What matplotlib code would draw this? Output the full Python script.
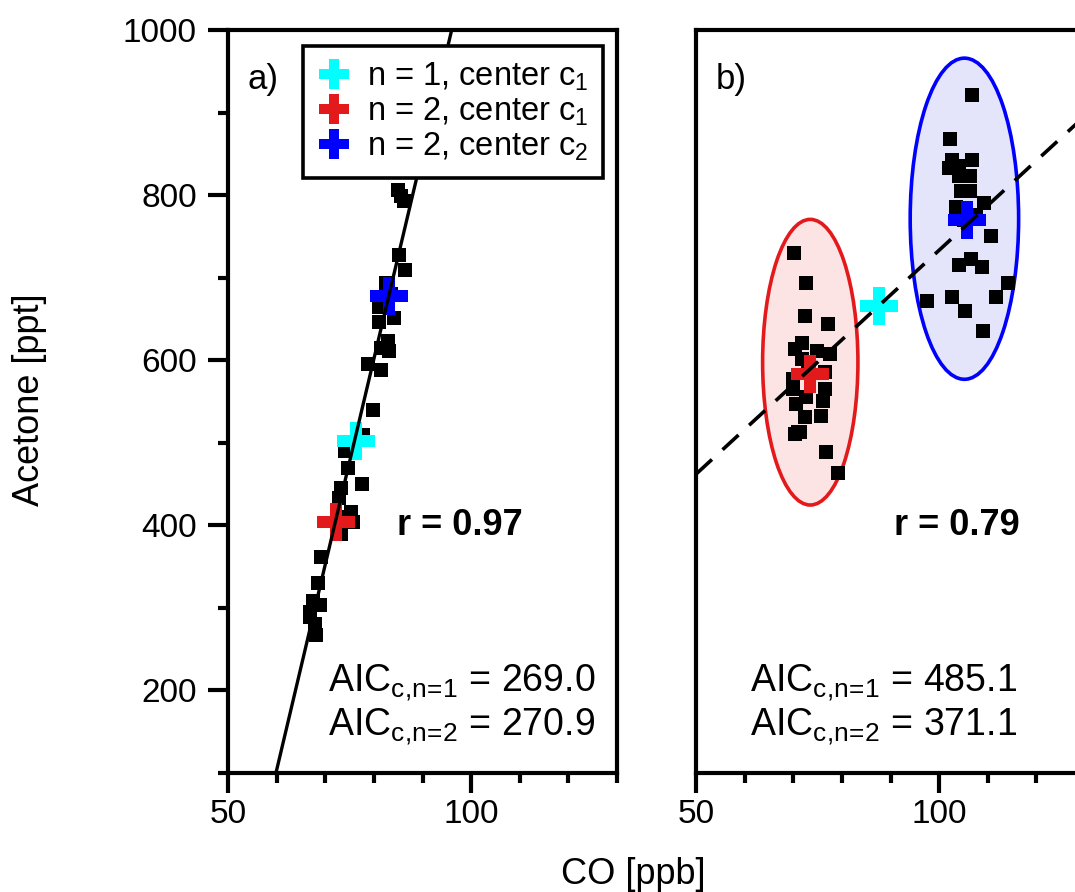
import matplotlib
matplotlib.use("Agg")
import matplotlib.pyplot as plt
from matplotlib.patches import Ellipse
from matplotlib.ticker import MultipleLocator, NullLocator

plt.rcParams['font.family'] = ['Liberation Sans', 'DejaVu Sans']
plt.rcParams['mathtext.fontset'] = 'custom'
plt.rcParams['mathtext.rm'] = 'Liberation Sans'
plt.rcParams['mathtext.it'] = 'Liberation Sans'
plt.rcParams['mathtext.bf'] = 'Liberation Sans:bold'

# ---- panel a: strongly correlated case ----
co_a = [84.9, 85.6, 86.2, 85.2, 86.3, 82.5, 83.5, 81.1, 84.2, 81.1, 82.9, 83.2,
        81.5, 78.7, 81.4, 79.9, 77.7, 76.0, 74.0, 74.6, 77.6, 73.3, 72.9, 75.3,
        75.7, 72.4, 73.3, 69.2, 68.5, 67.5, 69.0, 66.8, 66.8, 67.8, 68.1]
acetone_a = [806, 799, 793, 727, 709, 694, 680, 665, 651, 646, 623, 611,
             615, 595, 588, 540, 509, 500, 490, 469, 450, 445, 433, 416,
             404, 410, 390, 362, 330, 308, 303, 295, 289, 281, 267]
fit_a_x = [59.86, 96.0]
fit_a_y = [100, 1000]
center1_a = (76.3, 502)
center2_a = [(72.2, 404), (83.2, 678)]

# ---- panel b: two separated clusters ----
co_b = [106.8, 102.3, 102.7, 106.8, 102.0, 104.1, 106.3, 104.1, 104.6, 106.4,
        109.3, 103.5, 107.5, 110.7, 106.6, 104.1, 108.8, 114.1, 97.5, 102.7,
        111.6, 105.4, 109.0, 105.2,
        70.2, 72.7, 72.5, 77.1, 71.9, 70.3, 74.8, 77.5, 71.7, 76.5, 70.0, 70.0,
        76.5, 72.7, 70.5, 76.1, 72.4, 75.8, 71.0, 70.3, 71.4, 76.8, 79.2, 73.0]
acetone_b = [921, 868, 843, 843, 833, 835, 823, 823, 805, 805,
             791, 785, 776, 751, 723, 715, 713, 693, 672, 676,
             676, 660, 635, 770,
             730, 693, 654, 644, 621, 613, 611, 608, 601, 586, 577, 565,
             565, 555, 547, 551, 531, 533, 513, 511, 513, 489, 463, 590]
fit_b_x = [50, 130]
fit_b_y = [462, 896]
center1_b = (87.6, 666)
center2_b = [(73.4, 583), (105.8, 770)]
# cluster ellipses: (x, y, width, height)
ell_red = (73.5, 597.6, 19.6, 346)
ell_blue = (105.2, 771.4, 22.3, 389)

aic_a = ['269.0', '270.9']
aic_b = ['485.1', '371.1']
r_a = '0.97'
r_b = '0.79'

red = '#E31A1C'
blue = '#0000FF'
cyan = '#00FFFF'

W, H = 1075, 892
fig = plt.figure(figsize=(W / 100, H / 100), dpi=100)
ax_a = fig.add_axes([228 / W, 1 - 773 / H, 389 / W, 743 / H])
ax_b = fig.add_axes([696 / W, 1 - 773 / H, 389 / W, 743 / H])

lw = 3.0
for ax in (ax_a, ax_b):
    ax.set_xlim(50, 130)
    ax.set_ylim(100, 1000)
    for sp in ax.spines.values():
        sp.set_linewidth(lw)
        sp.set_capstyle('projecting')
    ax.xaxis.set_major_locator(MultipleLocator(50))
    ax.xaxis.set_minor_locator(MultipleLocator(10))
    ax.tick_params(axis='x', which='major', length=14.4, width=lw, labelsize=24, pad=4)
    ax.tick_params(axis='x', which='minor', length=7.2, width=lw)
    ax.tick_params(axis='both', direction='out', top=False, right=False)

ax_a.yaxis.set_major_locator(MultipleLocator(200))
ax_a.yaxis.set_minor_locator(MultipleLocator(100))
ax_a.tick_params(axis='y', which='major', length=14.4, width=lw, labelsize=24, pad=8)
ax_a.tick_params(axis='y', which='minor', length=7.2, width=lw)
ax_b.yaxis.set_major_locator(NullLocator())
ax_b.yaxis.set_minor_locator(NullLocator())

ms_sq = 9.5
ms_plus = 27

# panel a
ax_a.plot(co_a, acetone_a, 's', color='black', ms=ms_sq, mew=0, zorder=3)
h1, = ax_a.plot(*center1_a, 'P', color=cyan, ms=ms_plus, mew=0, zorder=4,
                label='n = 1, center c$_1$')
h2, = ax_a.plot(*center2_a[0], 'P', color=red, ms=ms_plus, mew=0, zorder=4,
                label='n = 2, center c$_1$')
h3, = ax_a.plot(*center2_a[1], 'P', color=blue, ms=ms_plus, mew=0, zorder=4,
                label='n = 2, center c$_2$')
ax_a.plot(fit_a_x, fit_a_y, '-', color='black', lw=2.4, zorder=5)

leg = ax_a.legend(handles=[h1, h2, h3], loc='upper right',
                  bbox_to_anchor=((603 - 228) / 389, (773 - 46) / 743),
                  borderaxespad=0, fontsize=23.5, markerscale=0.8,
                  fancybox=False, framealpha=1, edgecolor='black',
                  handlelength=1.0, handletextpad=0.5, labelspacing=0.08,
                  borderpad=0.45)
leg.get_frame().set_linewidth(2.6)
leg.set_zorder(10)

# panel b
ax_b.add_patch(Ellipse(ell_red[:2], ell_red[2], ell_red[3], facecolor='#FCE4E4',
                       edgecolor=red, lw=2.6, zorder=1))
ax_b.add_patch(Ellipse(ell_blue[:2], ell_blue[2], ell_blue[3], facecolor='#E4E4FA',
                       edgecolor=blue, lw=2.6, zorder=1))
ax_b.plot(co_b, acetone_b, 's', color='black', ms=ms_sq, mew=0, zorder=3)
ax_b.plot(*center1_b, 'P', color=cyan, ms=ms_plus, mew=0, zorder=4)
ax_b.plot(*center2_b[0], 'P', color=red, ms=ms_plus, mew=0, zorder=4)
ax_b.plot(*center2_b[1], 'P', color=blue, ms=ms_plus, mew=0, zorder=4)
ax_b.plot(fit_b_x, fit_b_y, color='black', lw=2.6, dashes=(6, 4), zorder=5)

# annotations
for ax, tag, rx, rv, ax0, vals in ((ax_a, 'a)', 84.7, r_a, 70.5, aic_a),
                                   (ax_b, 'b)', 90.7, r_b, 61.1, aic_b)):
    ax.text(0.05, 0.955, tag, transform=ax.transAxes, fontsize=25,
            ha='left', va='top')
    ax.text(rx, 400, 'r = ' + rv, fontsize=26, fontweight='bold',
            ha='left', va='center')
    ax.text(ax0, 199, r'AIC$_{c{,}n\!=\!1}$ = ' + vals[0], fontsize=27,
            ha='left', va='baseline')
    ax.text(ax0, 146, r'AIC$_{c{,}n\!=\!2}$ = ' + vals[1], fontsize=27,
            ha='left', va='baseline')

fig.text(30 / W, 1 - 400 / H, 'Acetone [ppt]', rotation=90, fontsize=26,
         ha='center', va='center')
fig.text(633 / W, 8 / H, 'CO [ppb]', fontsize=26, ha='center', va='baseline')

fig.savefig('out.png', dpi=100)
